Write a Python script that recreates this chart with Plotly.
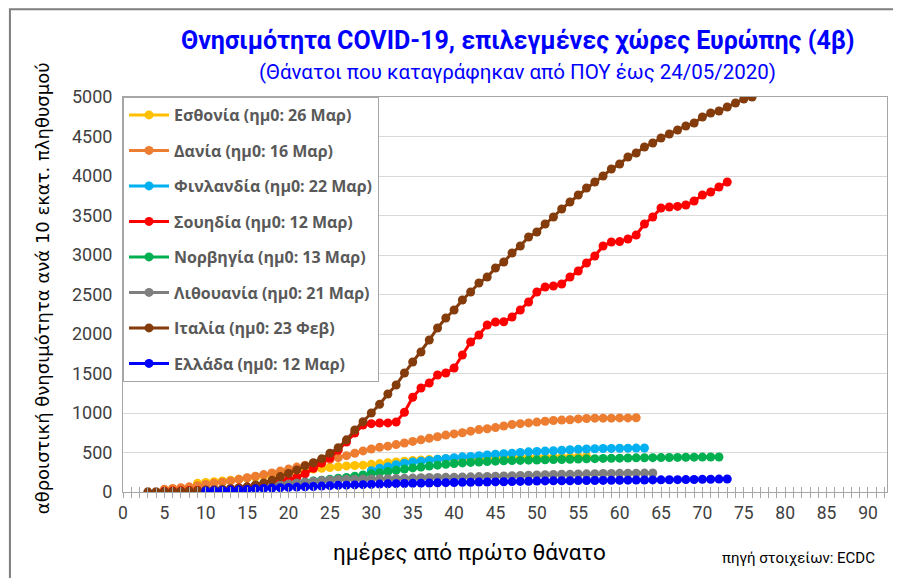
import plotly.graph_objects as go

# ---------------- data (values per 10 million population) ----------------
names = [
    "Εσθονία (ημ0: 26 Μαρ)",
    "Δανία (ημ0: 16 Μαρ)",
    "Φινλανδία (ημ0: 22 Μαρ)",
    "Σουηδία (ημ0: 12 Μαρ)",
    "Νορβηγία (ημ0: 13 Μαρ)",
    "Λιθουανία (ημ0: 21 Μαρ)",
    "Ιταλία (ημ0: 23 Φεβ)",
    "Ελλάδα (ημ0: 12 Μαρ)",
]
colors = ["#FFC000", "#ED7D31", "#00B0F0", "#FF0000",
          "#00B050", "#7F7F7F", "#843C0C", "#0000FF"]

estonia_start = 9
estonia = [110, 120, 130, 140, 150, 160, 175, 190, 205, 220, 235, 245, 260, 275, 290,
           300, 310, 320, 330, 335, 340, 350, 360, 370, 380, 390, 400, 405, 410, 415,
           420, 420, 425, 425, 430, 430, 435, 435, 438, 440, 440, 440, 443, 443, 445,
           445, 448, 450]

denmark_start = 5
denmark = [35, 45, 55, 65, 80, 95, 110, 125, 140, 160, 180, 200, 220, 240, 265,
           290, 315, 340, 360, 385, 410, 435, 460, 490, 520, 545, 565, 580, 600, 620,
           640, 660, 680, 700, 720, 735, 750, 770, 790, 800, 815, 835, 855, 865, 875,
           885, 895, 905, 910, 915, 925, 930, 935, 935, 935, 938, 938, 940]

finland_start = 10
finland = [20, 25, 30, 35, 45, 55, 65, 75, 85, 95, 105, 115, 125, 135, 145,
           155, 165, 170, 175, 180, 270, 300, 320, 345, 365, 380, 390, 400, 415, 425,
           435, 445, 450, 460, 468, 478, 485, 492, 500, 508, 512, 518, 522, 528, 535,
           540, 544, 548, 550, 552, 554, 555, 556, 557]

sweden_start = 5
sweden = [10, 12, 15, 18, 20, 25, 30, 35, 42, 52, 62, 80, 100, 120, 140,
          160, 185, 230, 300, 365, 430, 530, 633, 747, 848, 865, 873, 875, 886, 1010,
          1200, 1316, 1380, 1481, 1506, 1570, 1734, 1899, 1987, 2114, 2152, 2155, 2215, 2304, 2405,
          2532, 2595, 2608, 2633, 2721, 2797, 2899, 2987, 3114, 3165, 3170, 3203, 3253, 3392, 3481,
          3595, 3608, 3615, 3633, 3684, 3759, 3797, 3861, 3924]

norway_start = 10
norway = [15, 20, 25, 30, 38, 45, 55, 65, 75, 85, 95, 110, 125, 140, 150,
          160, 175, 185, 200, 215, 230, 245, 260, 275, 290, 305, 315, 328, 340, 350,
          360, 368, 375, 380, 385, 390, 395, 398, 400, 403, 405, 408, 410, 412, 415,
          417, 420, 422, 425, 426, 428, 430, 432, 433, 435, 436, 437, 438, 440, 441,
          442, 443, 443]

lithuania_start = 10
lithuania = [25, 30, 35, 40, 45, 50, 60, 70, 80, 90, 100, 112, 125, 135, 145,
             152, 158, 160, 162, 164, 165, 167, 168, 170, 173, 176, 180, 183, 185, 186,
             188, 190, 192, 195, 197, 200, 203, 206, 209, 212, 215, 218, 221, 224, 226,
             228, 230, 232, 234, 235, 236, 237, 238, 239, 240]

italy_start = 3
italy = [2, 3, 5, 7, 10, 13, 17, 21, 26, 32, 42, 52, 65, 88, 115,
         150, 195, 235, 280, 330, 370, 420, 490, 560, 660, 785, 890, 1000, 1110, 1240,
         1354, 1506, 1646, 1772, 1924, 2076, 2202, 2304, 2430, 2532, 2645, 2721, 2835, 2911, 3025,
         3114, 3228, 3291, 3392, 3481, 3582, 3671, 3759, 3848, 3924, 4000, 4089, 4152, 4240, 4291,
         4367, 4418, 4481, 4532, 4582, 4633, 4671, 4747, 4797, 4823, 4873, 4924, 4975, 5000]

greece_start = 10
greece = [14, 16, 20, 24, 28, 33, 40, 45, 50, 55, 58, 62, 66, 70, 75,
          80, 84, 87, 90, 93, 96, 100, 103, 106, 108, 110, 112, 114, 116, 118,
          120, 122, 124, 126, 127, 128, 130, 132, 134, 136, 138, 140, 141, 142, 143,
          144, 145, 146, 147, 148, 149, 150, 151, 152, 153, 154, 155, 156, 157, 158,
          160, 161, 163, 165]

series = [
    (estonia_start, estonia), (denmark_start, denmark), (finland_start, finland),
    (sweden_start, sweden), (norway_start, norway), (lithuania_start, lithuania),
    (italy_start, italy), (greece_start, greece),
]

x_tickvals = list(range(0, 91, 5))
y_tickvals = list(range(0, 5001, 500))

title_text = "Θνησιμότητα COVID-19, επιλεγμένες χώρες Ευρώπης (4β)"
subtitle_text = "(Θάνατοι που καταγράφηκαν από ΠΟΥ έως 24/05/2020)"
ytitle_text = "αθροιστική θνησιμότητα ανά 10 εκατ. πληθυσμού"
xtitle_text = "ημέρες από πρώτο θάνατο"
source_text = "πηγή στοιχείων: ECDC"

# ---------------- figure ----------------
fig = go.Figure()
for i, (name, color, (start, vals)) in enumerate(zip(names, colors, series)):
    days = list(range(start, start + len(vals)))
    fig.add_trace(go.Scatter(
        x=days, y=vals, name=name, mode="lines+markers",
        line=dict(color=color, width=3),
        marker=dict(color=color, size=9),
        legendgroup=f"g{i}",
    ))

# invisible trace for overlay axis (inside ticks -> crossing tick marks)
fig.add_trace(go.Scatter(x=[0], y=[0], xaxis="x2", mode="markers",
                         marker=dict(opacity=0), showlegend=False, hoverinfo="skip"))

XMAX = 92.3
fig.update_layout(
    width=893, height=570,
    margin=dict(l=115, r=14, t=89, b=86),
    paper_bgcolor="white", plot_bgcolor="white",
    font=dict(family="Roboto", color="#404040"),
    showlegend=True,
    legend=dict(
        x=0.0, y=1.0, xanchor="left", yanchor="top",
        bgcolor="white", bordercolor="#A6A6A6", borderwidth=1,
        font=dict(family="Open Sans", size=16, color="#595959", weight="bold"),
        tracegroupgap=11.7, itemwidth=40,
    ),
    xaxis=dict(
        range=[0, XMAX], tickvals=x_tickvals, showgrid=False, zeroline=False,
        showline=True, linecolor="#A6A6A6", linewidth=1, mirror=True,
        ticks="outside", ticklen=5, tickcolor="#A6A6A6",
        minor=dict(dtick=1, ticks="outside", ticklen=5, tickcolor="#A6A6A6", showgrid=False),
        tickfont=dict(family="Roboto", size=17.5, color="#404040"),
    ),
    xaxis2=dict(
        range=[0, XMAX], overlaying="x", anchor="y", side="bottom",
        showgrid=False, zeroline=False, showline=False, showticklabels=False,
        ticks="inside", ticklen=5, tickcolor="#A6A6A6", dtick=1, tick0=0,
    ),
    yaxis=dict(
        range=[0, 5000], tickvals=y_tickvals, showgrid=True, gridcolor="#D9D9D9",
        gridwidth=1, zeroline=False, showline=True, linecolor="#A6A6A6", mirror=True,
        ticks="", tickfont=dict(family="Roboto", size=18, color="#404040"),
        ticklabelstandoff=6,
    ),
)

fig.add_annotation(text=f"<b>{title_text}</b>", xref="paper", yref="paper",
                   x=0.517, y=1.144, xanchor="center", yanchor="middle", showarrow=False,
                   font=dict(family="Roboto", size=25, color="#0000FF"))
fig.add_annotation(text=subtitle_text, xref="paper", yref="paper",
                   x=0.517, y=1.063, xanchor="center", yanchor="middle", showarrow=False,
                   font=dict(family="Roboto", size=20.5, color="#0000FF"))
fig.add_annotation(text=ytitle_text, xref="paper", yref="paper",
                   x=-0.106, y=0.516, xanchor="center", yanchor="middle", showarrow=False,
                   textangle=-90, font=dict(family="DejaVu Sans", size=18, color="#000000"))
fig.add_annotation(text=xtitle_text, xref="paper", yref="paper",
                   x=0.454, y=-0.152, xanchor="center", yanchor="middle", showarrow=False,
                   font=dict(family="Roboto", size=22.5, color="#000000"))
fig.add_annotation(text=source_text, xref="paper", yref="paper",
                   x=0.987, y=-0.167, xanchor="right", yanchor="middle", showarrow=False,
                   font=dict(family="Roboto", size=15, color="#000000"))

# outer chart border
fig.add_shape(type="rect", xref="paper", yref="paper",
              x0=-0.148, x1=1.2, y0=-0.4, y1=1.222,
              line=dict(color="#7F7F7F", width=2), fillcolor="rgba(0,0,0,0)", layer="below")

fig.write_html("out.html")
